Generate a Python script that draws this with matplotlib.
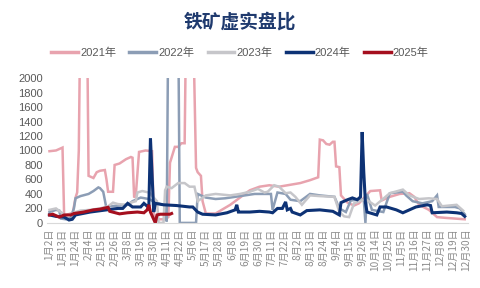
import numpy as np
import matplotlib
matplotlib.use('Agg')
import matplotlib.pyplot as plt

plt.rcParams['font.family'] = ['Liberation Sans', 'Noto Sans CJK SC', 'DejaVu Sans']

# x axis: trading-day index, one label every 8 days
tick_labels = ['1月2日', '1月13日', '1月24日', '2月4日', '2月15日', '2月26日', '3月8日',
               '3月19日', '3月30日', '4月11日', '4月22日', '5月6日', '5月17日', '5月28日',
               '6月8日', '6月19日', '6月30日', '7月11日', '7月22日', '8月2日', '8月13日',
               '8月24日', '9月4日', '9月15日', '9月26日', '10月14日', '10月25日', '11月5日',
               '11月16日', '11月27日', '12月8日', '12月19日', '12月30日']

# 2021
d21 = [0, 4, 6, 8, 9, 13, 14, 16, 17, 18, 19, 23, 24, 27, 29, 31, 34, 35, 36, 39, 40, 43, 47,
       50, 51, 52, 53, 55, 59, 63, 64, 66, 71, 73, 74, 77, 79, 81, 83, 84, 88, 90, 91, 93, 94,
       96, 102, 111, 123, 129, 135, 141, 154, 160, 165, 166, 168, 170, 172, 174, 175, 176, 178,
       179, 183, 187, 190, 197, 203, 204, 209, 215, 221, 224, 227, 233, 238, 243, 249, 255]
v21 = [990, 1000, 1020, 1040, 100, 130, 100, 350, 420, 1000, 3000, 3000, 650, 620, 700, 720,
       730, 600, 430, 430, 800, 820, 880, 910, 900, 350, 380, 980, 1000, 990, 100, 50, 50, 80,
       830, 1050, 1050, 1100, 1100, 3000, 3000, 760, 700, 650, 300, 130, 130, 250, 450, 500,
       520, 500, 550, 590, 630, 1150, 1140, 1090, 1080, 1120, 1120, 780, 770, 380, 280, 240,
       270, 440, 450, 310, 360, 400, 410, 360, 250, 180, 80, 70, 60, 50]

# 2022
d22 = [0, 4, 6, 7, 10, 13, 15, 16, 19, 24, 27, 30, 31, 33, 35, 37, 43, 48, 51, 56, 61, 65, 68,
       71, 72, 73, 79, 80, 90, 91, 96, 102, 108, 114, 120, 126, 132, 136, 137, 140, 145, 148,
       154, 160, 166, 175, 178, 182, 185, 190, 193, 194, 195, 198, 205, 209, 217, 219, 223,
       229, 235, 238, 239, 249, 252, 255]
v22 = [150, 180, 170, 60, 50, 70, 200, 340, 370, 400, 440, 490, 480, 430, 200, 230, 240, 250,
       300, 350, 330, 280, 260, 250, 20, 3000, 3000, 0, 0, 400, 350, 330, 340, 360, 380, 400,
       400, 400, 180, 420, 400, 320, 300, 400, 380, 360, 200, 150, 310, 320, 320, 0, 400, 180,
       150, 410, 430, 380, 300, 270, 300, 380, 220, 220, 200, 120]

# 2023
d23 = [0, 4, 7, 10, 13, 16, 19, 25, 31, 36, 39, 42, 47, 50, 53, 54, 57, 61, 62, 64, 66, 67, 70,
       71, 72, 75, 79, 83, 86, 89, 91, 96, 102, 111, 117, 123, 128, 132, 134, 138, 141, 145,
       148, 151, 155, 160, 166, 175, 178, 181, 184, 187, 194, 200, 209, 217, 221, 227, 233,
       238, 241, 250, 254]
v23 = [180, 200, 150, 100, 120, 150, 170, 180, 200, 230, 280, 260, 250, 280, 300, 420, 440, 420,
       400, 350, 300, 0, 0, 450, 500, 480, 550, 550, 500, 500, 300, 380, 400, 380, 400, 430,
       470, 420, 430, 520, 500, 410, 420, 360, 250, 380, 370, 360, 150, 90, 80, 270, 330, 240,
       410, 460, 380, 330, 340, 330, 230, 250, 170]

# 2024
d24 = [0, 4, 9, 12, 14, 16, 25, 35, 42, 45, 48, 51, 56, 58, 60, 61, 62, 64, 65, 70, 78, 86, 88,
       91, 94, 102, 109, 114, 115, 116, 117, 123, 129, 135, 137, 140, 143, 145, 146, 148, 149,
       154, 158, 166, 174, 178, 179, 183, 186, 189, 191, 192, 193, 194, 195, 198, 201, 203,
       207, 213, 217, 221, 225, 232, 234, 235, 244, 250, 253, 255]
v24 = [110, 90, 80, 40, 50, 110, 150, 180, 200, 200, 270, 220, 220, 270, 230, 220, 1170, 150,
       270, 250, 240, 220, 220, 150, 120, 110, 140, 180, 250, 150, 150, 150, 160, 150, 140,
       200, 200, 290, 180, 200, 150, 110, 170, 180, 160, 110, 280, 320, 345, 320, 360, 1255,
       700, 280, 150, 130, 110, 220, 220, 180, 140, 180, 220, 250, 240, 140, 150, 140, 130, 90]

# 2025
d25 = [0, 2, 6, 9, 13, 15, 21, 27, 31, 36, 37, 43, 48, 54, 58, 60, 61, 62, 65, 66, 68, 74, 75]
v25 = [110, 120, 80, 110, 110, 130, 150, 180, 190, 215, 160, 125, 140, 150, 140, 180, 250,
       150, 0, 110, 120, 120, 130]

series = [('2021年', d21, v21, '#E8A3AE', 1.8),
          ('2022年', d22, v22, '#8C9DB5', 1.8),
          ('2023年', d23, v23, '#C6C6CA', 1.8),
          ('2024年', d24, v24, '#0D3275', 2.2),
          ('2025年', d25, v25, '#A50F1E', 2.2)]

fig = plt.figure(figsize=(4.8, 2.88), dpi=100)
ax = fig.add_axes([0.098, 0.226, 0.877, 0.503])

for name, d, v, c, lw in series:
    ax.plot(d, v, color=c, lw=lw, label=name, solid_joinstyle='miter')

ax.set_ylim(0, 2000)
ax.set_xlim(-1.5, 257)
ax.set_yticks(np.arange(0, 2001, 200))
ax.set_xticks(np.arange(len(tick_labels)) * 8)
ax.set_xticklabels(tick_labels, rotation=90, fontsize=7.3, color='#8C8C8C',
                   family=['Noto Sans CJK SC', 'DejaVu Sans'])
ax.tick_params(axis='y', labelsize=8, colors='#595959', length=0, pad=3)
ax.tick_params(axis='x', length=0, pad=4)
for s in ['top', 'right', 'left']:
    ax.spines[s].set_visible(False)
ax.spines['bottom'].set_color('#D9D9D9')

fig.text(0.5, 1 - 22 / 288, '铁矿虚实盘比', ha='center', va='center', fontsize=13.5,
         fontweight='bold', color='#1F3A6E', family=['Noto Sans CJK SC'])

leg = fig.legend(loc='center', bbox_to_anchor=(0.5, 1 - 53 / 288), ncol=5, frameon=False,
                 fontsize=8, handlelength=2.4, handletextpad=0.2, columnspacing=1.2,
                 labelcolor='#595959')
for h in leg.get_lines():
    h.set_linewidth(2.5)

fig.savefig('out.png', dpi=100)
